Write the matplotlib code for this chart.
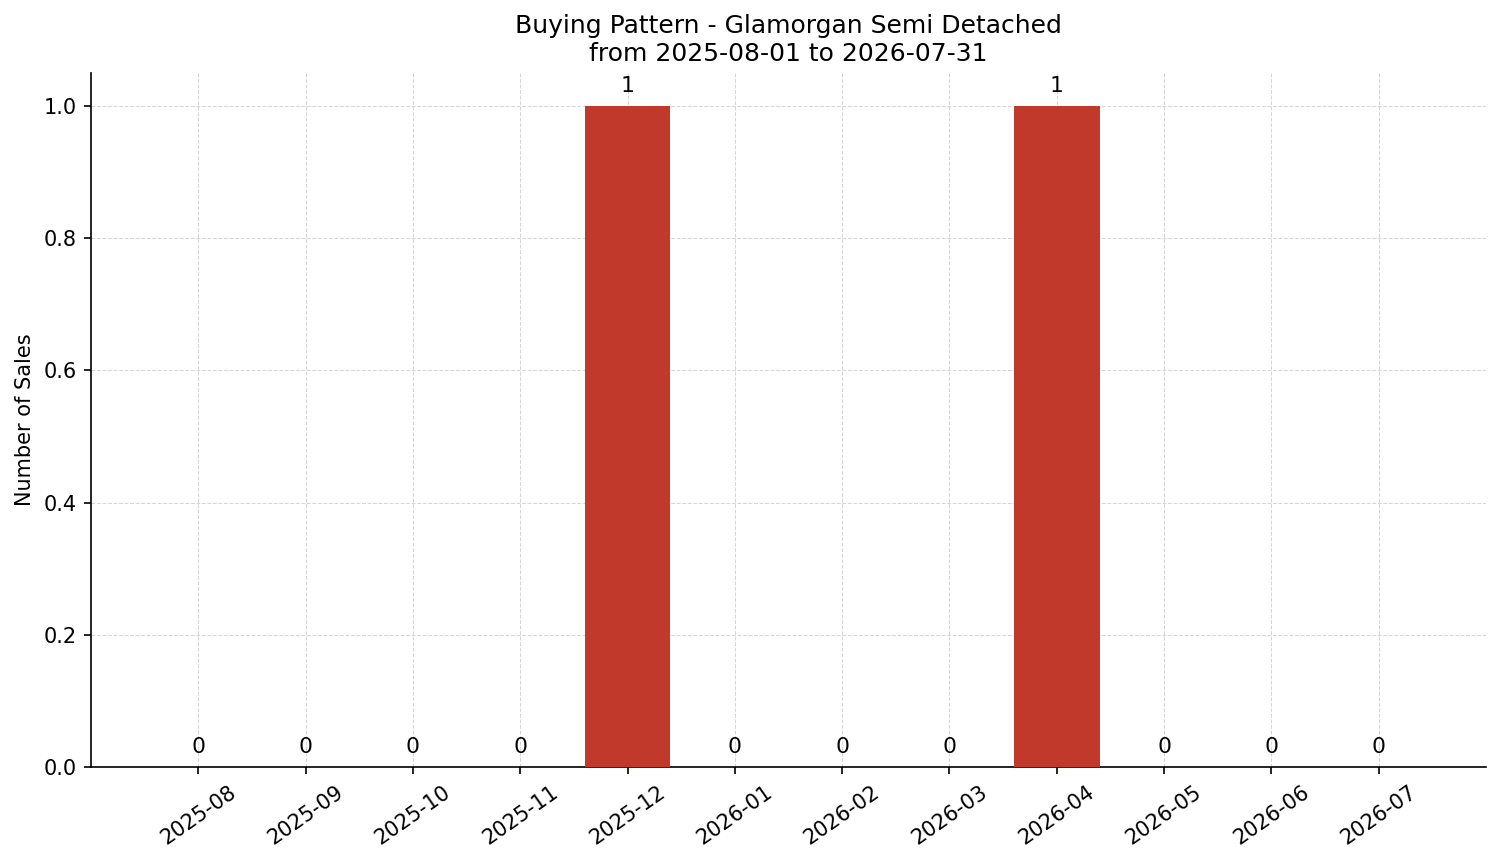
import numpy as np
import matplotlib
matplotlib.use('Agg')
import matplotlib.pyplot as plt

months = ['2025-08', '2025-09', '2025-10', '2025-11', '2025-12', '2026-01',
          '2026-02', '2026-03', '2026-04', '2026-05', '2026-06', '2026-07']
sales = [0, 0, 0, 0, 1, 0, 0, 0, 1, 0, 0, 0]

fig, ax = plt.subplots(figsize=(1501/150, 863/150), dpi=150)
x = np.arange(len(months))
bars = ax.bar(x, sales, width=0.8, color='#c0392b', zorder=3)
for xi, v in zip(x, sales):
    ax.text(xi, v + 0.015, str(v), ha='center', va='bottom', fontsize=10.5, zorder=4)

ax.set_xticks(x)
ax.set_xticklabels(months, rotation=35)
ax.tick_params(axis='both', labelsize=10)
ax.set_xlim(-1, 12)
ax.set_ylim(0, 1.05)
ax.set_ylabel('Number of Sales', fontsize=10)
ax.set_title('Buying Pattern - Glamorgan Semi Detached\nfrom 2025-08-01 to 2026-07-31', fontsize=12)
ax.grid(True, linestyle='--', linewidth=0.5, color='#cccccc', alpha=0.8, zorder=0)
ax.spines['top'].set_visible(False)
ax.spines['right'].set_visible(False)
ax.set_axisbelow(True)

fig.subplots_adjust(left=0.0606, right=0.990, top=0.9154, bottom=0.1112)
fig.savefig('out.png', dpi=150)
